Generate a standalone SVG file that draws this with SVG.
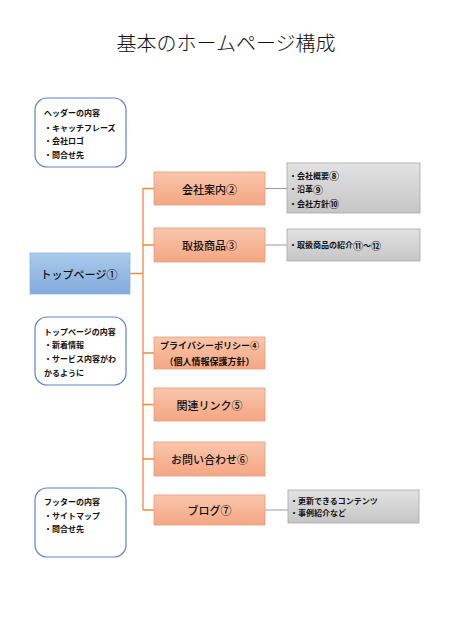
<svg xmlns="http://www.w3.org/2000/svg" width="452" height="640" viewBox="0 0 452 640">
<defs>
<linearGradient id="gOr" x1="0" y1="0" x2="0" y2="1"><stop offset="0" stop-color="#f9c6ab"/><stop offset="1" stop-color="#f4a684"/></linearGradient>
<linearGradient id="gBl" x1="0" y1="0" x2="0" y2="1"><stop offset="0" stop-color="#a9cbec"/><stop offset="1" stop-color="#82abdb"/></linearGradient>
<linearGradient id="gGr" x1="0" y1="0" x2="0" y2="1"><stop offset="0" stop-color="#e2e2e2"/><stop offset="1" stop-color="#c6c6c6"/></linearGradient>
<style>
text{font-family:"Noto Sans CJK JP","Noto Sans",sans-serif;fill:#111}
.title{font-family:"Noto Sans CJK JP",serif;font-size:20px;font-weight:300}
.note{fill:#fff;stroke:#5b84d0;stroke-width:1.2}
.or{fill:url(#gOr);stroke:#e79d7d;stroke-width:0.8}
.gr{fill:url(#gGr);stroke:#a8a8a8;stroke-width:0.8}
.s{font-size:8px;font-weight:bold}
.m{font-size:11px;font-weight:500}
.c{font-size:10px}
.oc{stroke:#f28a3a;stroke-width:1.3;fill:none}
.gc{stroke:#9a9a9a;stroke-width:1;fill:none}
</style>
</defs>
<text class="title" x="226" y="42" text-anchor="middle" dominant-baseline="central">基本のホームページ構成</text>

<g id="connectors">
<path class="oc" d="M130 273.5H143M143 188V510M143 188.5H154M143 245H154M143 353H154M143 404.5H154M143 459H154M143 510H154"/>
<path class="gc" d="M265 188.5H287M265 245H287M265 510H288"/>
</g>

<g id="header-note">
<rect class="note" x="35" y="98" width="91" height="69" rx="12"/>
<text class="s" x="44" y="112" dominant-baseline="central">ヘッダーの内容</text>
<text class="s" x="44" y="127" dominant-baseline="central">・キャッチフレーズ</text>
<text class="s" x="44" y="140" dominant-baseline="central">・会社ロゴ</text>
<text class="s" x="44" y="154" dominant-baseline="central">・問合せ先</text>
</g>

<g id="top-page">
<rect x="30" y="253" width="100" height="41" fill="url(#gBl)" stroke="#8db3df" stroke-width="0.8"/>
<text class="m" x="79" y="273.5" text-anchor="middle" dominant-baseline="central">トップページ①</text>
</g>

<g id="top-note">
<rect class="note" x="35" y="317" width="91" height="68" rx="12"/>
<text class="s" x="44" y="331" dominant-baseline="central">トップページの内容</text>
<text class="s" x="44" y="344" dominant-baseline="central">・新着情報</text>
<text class="s" x="44" y="358" dominant-baseline="central">・サービス内容がわ</text>
<text class="s" x="44" y="372" dominant-baseline="central">かるように</text>
</g>

<g id="footer-note">
<rect class="note" x="35" y="488" width="91" height="69" rx="12"/>
<text class="s" x="44" y="501" dominant-baseline="central">フッターの内容</text>
<text class="s" x="44" y="515" dominant-baseline="central">・サイトマップ</text>
<text class="s" x="44" y="528" dominant-baseline="central">・問合せ先</text>
</g>

<g id="company">
<rect class="or" x="154" y="172" width="111" height="33"/>
<text class="m" x="209.5" y="188.5" text-anchor="middle" dominant-baseline="central">会社案内②</text>
</g>
<g id="products">
<rect class="or" x="154" y="228" width="111" height="34"/>
<text class="m" x="209.5" y="245" text-anchor="middle" dominant-baseline="central">取扱商品③</text>
</g>
<g id="privacy">
<rect class="or" x="154" y="337" width="111" height="32"/>
<text x="209.5" y="345" font-size="9" font-weight="bold" text-anchor="middle" dominant-baseline="central">プライバシーポリシー④</text>
<text x="209.5" y="361" font-size="9" font-weight="bold" text-anchor="middle" dominant-baseline="central">（個人情報保護方針）</text>
</g>
<g id="links">
<rect class="or" x="154" y="388" width="111" height="33"/>
<text class="m" x="209.5" y="404.5" text-anchor="middle" dominant-baseline="central">関連リンク⑤</text>
</g>
<g id="contact">
<rect class="or" x="154" y="442" width="111" height="34"/>
<text class="m" x="209.5" y="459" text-anchor="middle" dominant-baseline="central">お問い合わせ⑥</text>
</g>
<g id="blog">
<rect class="or" x="154" y="495" width="111" height="30"/>
<text class="m" x="209.5" y="510" text-anchor="middle" dominant-baseline="central">ブログ⑦</text>
</g>

<g id="company-detail">
<rect class="gr" x="287" y="163" width="133" height="50"/>
<text class="s" x="289" y="175" dominant-baseline="central">・会社概要<tspan class="c">⑧</tspan></text>
<text class="s" x="289" y="188.5" dominant-baseline="central">・沿革<tspan class="c">⑨</tspan></text>
<text class="s" x="289" y="203" dominant-baseline="central">・会社方針<tspan class="c">⑩</tspan></text>
</g>
<g id="products-detail">
<rect class="gr" x="287" y="229" width="133" height="32"/>
<text class="s" x="289" y="244.5" dominant-baseline="central">・取扱商品の紹介<tspan class="c">⑪</tspan>～<tspan class="c">⑫</tspan></text>
</g>
<g id="blog-detail">
<rect class="gr" x="288" y="490" width="131" height="33"/>
<text class="s" x="290" y="500" dominant-baseline="central">・更新できるコンテンツ</text>
<text class="s" x="290" y="512.5" dominant-baseline="central">・事例紹介など</text>
</g>
</svg>
